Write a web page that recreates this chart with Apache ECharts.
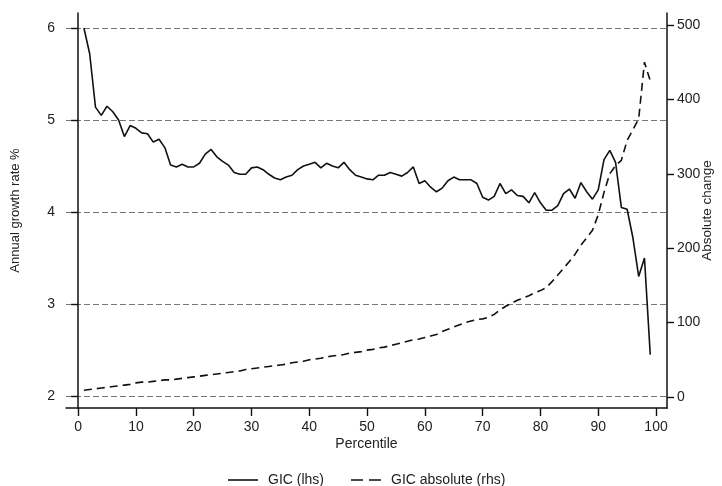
<!DOCTYPE html>
<html><head><meta charset="utf-8">
<script src="https://cdn.jsdelivr.net/npm/echarts@6/dist/echarts.min.js"></script>
<style>html,body{margin:0;padding:0;background:#fff}#c{width:722px;height:486px}</style>
</head><body><div id="c"></div>
<script>
const percentiles = [1,2,3,4,5,6,7,8,9,10,11,12,13,14,15,16,17,18,19,20,21,22,23,24,25,26,27,28,29,30,31,32,33,34,35,36,37,38,39,40,41,42,43,44,45,46,47,48,49,50,51,52,53,54,55,56,57,58,59,60,61,62,63,64,65,66,67,68,69,70,71,72,73,74,75,76,77,78,79,80,81,82,83,84,85,86,87,88,89,90,91,92,93,94,95,96,97,98,99];
const gicGrowth = [6.00,5.72,5.14,5.05,5.15,5.09,5.00,4.82,4.94,4.91,4.86,4.85,4.76,4.79,4.70,4.51,4.49,4.52,4.49,4.49,4.53,4.63,4.68,4.60,4.55,4.51,4.43,4.41,4.41,4.48,4.49,4.46,4.41,4.37,4.35,4.38,4.40,4.46,4.50,4.52,4.54,4.48,4.53,4.50,4.48,4.54,4.46,4.40,4.38,4.36,4.35,4.40,4.40,4.43,4.41,4.39,4.43,4.49,4.31,4.34,4.27,4.22,4.26,4.34,4.38,4.35,4.35,4.35,4.31,4.16,4.13,4.17,4.31,4.20,4.24,4.18,4.17,4.10,4.21,4.10,4.02,4.02,4.07,4.20,4.25,4.15,4.32,4.22,4.14,4.24,4.57,4.67,4.54,4.05,4.03,3.72,3.30,3.50,2.45];
const gicAbsolute = [9,10,11,12,13,14,15,16,17,19,20,20,21,22,23,23,24,25,26,27,28,29,30,31,32,33,34,35,37,38,39,40,41,42,43,44,46,47,48,50,51,52,54,55,56,57,59,60,61,63,64,66,67,69,71,73,75,77,78,80,82,84,88,91,94,97,100,102,104,105,107,111,117,122,126,130,133,136,140,143,147,155,164,173,182,192,204,214,224,245,275,300,311,318,345,359,374,450,425];
const xTicks = [0,10,20,30,40,50,60,70,80,90,100];
const leftTicks = [2,3,4,5,6];
const rightTicks = [0,100,200,300,400,500];
const seriesNames = ['GIC (lhs)','GIC absolute (rhs)'];

const font = 'Liberation Sans, Arial, sans-serif';
const txt = {color:'#222', fontFamily:font, fontSize:14};
const chart = echarts.init(document.getElementById('c'), null, {renderer:'canvas'});
chart.setOption({
  animation:false,
  backgroundColor:'#fff',
  grid:{left:66, right:55, top:13, bottom:78, containLabel:false, outerBoundsMode:'none'},
  legend:{
    top:468, left:223, itemWidth:30, itemHeight:10, itemGap:27,
    textStyle:Object.assign({}, txt, {padding:[0,0,0,5]}),
    data:[{name:seriesNames[0], icon:'path://M0,0H30V1.6H0Z'},{name:seriesNames[1], icon:'path://M0,0H12V1.6H0ZM18,0H30V1.6H18Z'}],
    itemStyle:{color:'#111'}
  },
  xAxis:{
    type:'value', min:-2.1, max:101.9,
    name:'Percentile', nameLocation:'middle', nameGap:29, nameTextStyle:txt, nameMoveOverlap:false,
    axisLine:{show:true, onZero:false, lineStyle:{color:'#111', width:1.5}},
    axisTick:{show:true, length:8, customValues:xTicks, lineStyle:{color:'#111', width:1.4}},
    axisLabel:Object.assign({customValues:xTicks, margin:12}, txt),
    splitLine:{show:false}
  },
  yAxis:[{
    type:'value', min:1.870, max:6.163, position:'left',
    name:'Annual growth rate %', nameLocation:'middle', nameGap:44, nameRotate:90, nameMoveOverlap:false, nameTextStyle:Object.assign({}, txt, {fontSize:13}),
    axisLine:{show:true, lineStyle:{color:'#111', width:1.5}},
    axisTick:{show:true, length:7, customValues:leftTicks, lineStyle:{color:'#111', width:1.4}},
    axisLabel:Object.assign({customValues:leftTicks, margin:11}, txt),
    splitLine:{show:true, lineStyle:{color:'#777', width:1, type:[6,3]}}
  },{
    type:'value', min:-14.8, max:516.1, position:'right',
    name:'Absolute change', nameLocation:'middle', nameGap:33, nameRotate:90, nameMoveOverlap:false, nameTextStyle:Object.assign({}, txt, {fontSize:13.5}),
    axisLine:{show:true, lineStyle:{color:'#111', width:1.5}},
    axisTick:{show:true, length:7, customValues:rightTicks, lineStyle:{color:'#111', width:1.4}},
    axisLabel:Object.assign({customValues:rightTicks, margin:10}, txt),
    splitLine:{show:false}
  }],
  series:[{
    name:seriesNames[0], type:'line', yAxisIndex:0, symbol:'none',
    data:percentiles.map((p,i)=>[p,gicGrowth[i]]),
    lineStyle:{color:'#111', width:1.6}, itemStyle:{color:'#111'}
  },{
    name:seriesNames[1], type:'line', yAxisIndex:1, symbol:'none',
    data:percentiles.map((p,i)=>[p,gicAbsolute[i]]),
    lineStyle:{color:'#111', width:1.6, type:[8,5]}, itemStyle:{color:'#111'}
  }]
});
</script></body></html>
